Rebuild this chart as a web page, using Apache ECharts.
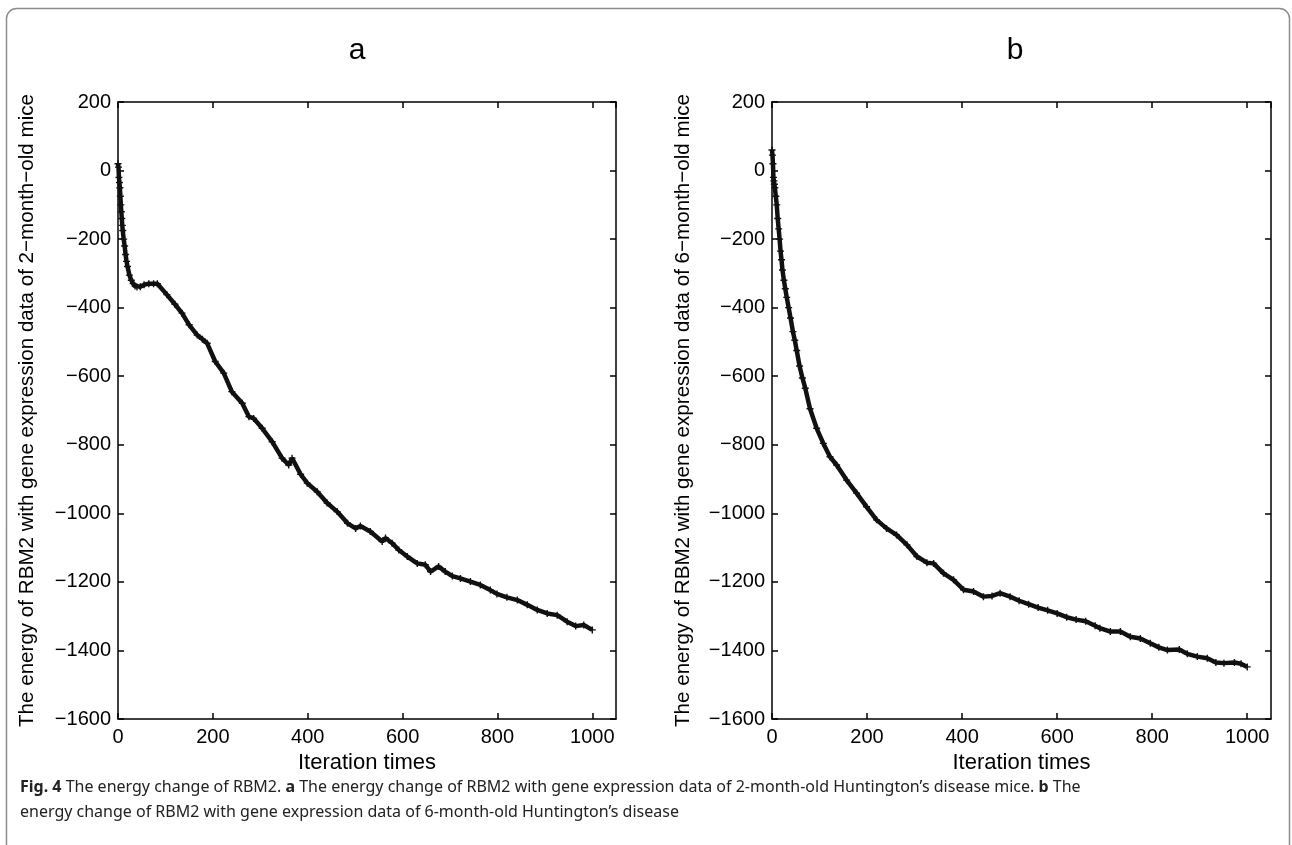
<!DOCTYPE html>
<html>
<head>
    <meta charset="utf-8" />
    <title>Energy change of RBM2</title>
    <script src="https://cdn.jsdelivr.net/npm/echarts@6/dist/echarts.min.js"></script>
    <style>
        html, body { margin: 0; padding: 0; background: #fff; }
        #main { width: 1292px; height: 845px; }
    </style>
</head>
<body>
    <div id="main"></div>
    <script type="text/javascript">
        // panel a: 2-month-old mice
        var iterA = [0, 1, 2, 3, 4, 5, 6, 7, 8, 9, 10, 12, 14, 16, 18, 20, 24, 28, 32, 36, 40, 47, 55, 65, 75, 83,
            103, 120, 135, 150, 167, 178, 188, 205, 223, 240, 262, 276, 286, 304, 325, 346, 360, 367, 385, 399,
            420, 441, 462, 484, 501, 511, 532, 557, 564, 578, 592, 610, 631, 648, 659, 676, 690, 705, 722, 743,
            764, 785, 799, 820, 842, 863, 884, 905, 926, 947, 965, 982, 1000];
        var energyA = [20, 10, -20, -35, -50, -75, -100, -120, -140, -160, -175, -200, -220, -245, -265, -280, -305, -320, -330, -337, -340, -339, -333, -330, -330, -330,
            -362, -390, -416, -450, -480, -492, -504, -557, -591, -645, -679, -718, -723, -752, -791, -839, -859, -839, -886, -912,
            -937, -970, -995, -1029, -1044, -1037, -1053, -1082, -1072, -1087, -1107, -1126, -1146, -1150, -1170, -1155, -1170, -1183, -1190, -1199,
            -1209, -1224, -1235, -1245, -1253, -1267, -1282, -1292, -1297, -1316, -1329, -1326, -1340];

        // panel b: 6-month-old mice
        var iterB = [0, 1, 2, 3, 4, 5, 6, 8, 10, 12, 14, 16, 18, 20, 22, 25, 28, 31, 35, 39, 44, 48, 52, 58, 64, 70, 80,
            94, 108, 122, 136, 157, 178, 199, 220, 241, 262, 284, 305, 326, 340, 361, 382, 403, 424, 445, 463, 480, 501,
            520, 540, 560, 580, 600, 620, 640, 660, 680, 690, 712, 733, 754, 775, 796, 814, 832, 857, 874, 895, 916, 934,
            951, 973, 987, 1000];
        var energyB = [60, 45, 20, -20, -30, -40, -50, -75, -100, -140, -170, -200, -235, -260, -290, -320, -345, -370, -400, -430, -470, -495, -525, -570, -605, -635, -695,
            -752, -796, -835, -859, -903, -941, -981, -1019, -1044, -1063, -1092, -1126, -1144, -1146, -1175, -1194, -1223, -1228, -1243, -1241, -1233, -1243,
            -1255, -1265, -1275, -1283, -1292, -1303, -1310, -1315, -1328, -1335, -1345, -1345, -1360, -1365, -1379, -1391, -1399, -1397, -1410, -1418, -1423, -1435,
            -1437, -1435, -1439, -1448];

        var xTicks = [0, 200, 400, 600, 800, 1000];
        var yTicks = [-1600, -1400, -1200, -1000, -800, -600, -400, -200, 0, 200];
        var panelTitles = ['a', 'b'];
        var yNames = ['The energy of RBM2 with gene expression data of 2\u2212month\u2212old mice',
            'The energy of RBM2 with gene expression data of 6\u2212month\u2212old mice'];
        var xName = 'Iteration times';

        function pairs(xs, ys) {
            var out = [];
            for (var i = 0; i < xs.length; i++) out.push([xs[i], ys[i]]);
            return out;
        }
        function minus(v) { return String(v).replace('-', '\u2212'); }

        var font = '"Liberation Sans", Arial, Helvetica, sans-serif';
        var capFont = '"Noto Sans", sans-serif';
        var grids = [
            { left: 118, top: 102, width: 498, height: 617 },
            { left: 772, top: 102, width: 499, height: 617 }
        ];
        var axisLine = { show: true, onZero: false, lineStyle: { color: '#000', width: 1.5 } };
        var tick = { show: true, inside: true, length: 6, lineStyle: { color: '#000', width: 1.5 } };

        var xAxes = [], yAxes = [], series = [];
        [0, 1].forEach(function (g) {
            xAxes.push({
                type: 'value', gridIndex: g, position: 'bottom', min: 0, max: 1050, interval: 200,
                name: xName, nameLocation: 'middle', nameGap: 33,
                nameTextStyle: { fontFamily: font, fontSize: 22, color: '#000' },
                axisLine: axisLine, axisTick: tick, splitLine: { show: false },
                axisLabel: { fontFamily: font, fontSize: 20, color: '#000', margin: 8, showMaxLabel: false,
                    formatter: function (v) { return xTicks.indexOf(v) >= 0 ? minus(v) : ''; } }
            });
            xAxes.push({
                type: 'value', gridIndex: g, position: 'top', min: 0, max: 1050, interval: 200,
                axisLine: axisLine, axisTick: tick, axisLabel: { show: false }, splitLine: { show: false }
            });
            yAxes.push({
                type: 'value', gridIndex: g, position: 'left', min: -1600, max: 200, interval: 200,
                name: yNames[g], nameLocation: 'middle', nameGap: g === 0 ? 80 : 78,
                nameTextStyle: { fontFamily: font, fontSize: 20.6, color: '#000' },
                axisLine: axisLine, axisTick: tick, splitLine: { show: false },
                axisLabel: { fontFamily: font, fontSize: 20, color: '#000', margin: 7,
                    formatter: function (v) { return yTicks.indexOf(v) >= 0 ? minus(v) : ''; } }
            });
            yAxes.push({
                type: 'value', gridIndex: g, position: 'right', min: -1600, max: 200, interval: 200,
                axisLine: axisLine, axisTick: tick, axisLabel: { show: false }, splitLine: { show: false }
            });
            series.push({
                type: 'line',
                xAxisIndex: g * 2, yAxisIndex: g * 2,
                data: g === 0 ? pairs(iterA, energyA) : pairs(iterB, energyB),
                symbol: 'path://M4,0H6V4H10V6H6V10H4V6H0V4H4Z',
                symbolSize: 7,
                showAllSymbol: true,
                itemStyle: { color: '#111' },
                lineStyle: { color: '#111', width: 4.5 },
                animation: false
            });
        });

        var chart = echarts.init(document.getElementById('main'));
        chart.setOption({
            backgroundColor: '#fff',
            animation: false,
            title: [
                { text: panelTitles[0], left: 352, top: 46, textAlign: 'center', textVerticalAlign: 'middle',
                    textStyle: { fontFamily: font, fontSize: 30, fontWeight: 'normal', color: '#000' } },
                { text: panelTitles[1], left: 1010, top: 46, textAlign: 'center', textVerticalAlign: 'middle',
                    textStyle: { fontFamily: font, fontSize: 30, fontWeight: 'normal', color: '#000' } }
            ],
            grid: grids,
            xAxis: xAxes,
            yAxis: yAxes,
            series: series,
            graphic: [
                {
                    type: 'rect', silent: true,
                    shape: { x: 6.5, y: 8.5, width: 1283, height: 870, r: 10 },
                    style: { fill: 'none', stroke: '#8c8c8c', lineWidth: 1.5 }
                },
                {
                    type: 'text', left: 20, top: 779, silent: true,
                    style: {
                        text: '{b|Fig. 4} The energy change of RBM2. {b|a} The energy change of RBM2 with gene expression data of 2-month-old Huntington\u2019s disease mice. {b|b} The',
                        font: '16px ' + capFont, fill: '#222',
                        rich: { b: { fontWeight: 'bold', fontFamily: capFont, fontSize: 16, fill: '#222' } }
                    }
                },
                {
                    type: 'text', left: 20, top: 804, silent: true,
                    style: {
                        text: 'energy change of RBM2 with gene expression data of 6-month-old Huntington\u2019s disease',
                        font: '16px ' + capFont, fill: '#222'
                    }
                }
            ]
        });
    </script>
</body>
</html>
